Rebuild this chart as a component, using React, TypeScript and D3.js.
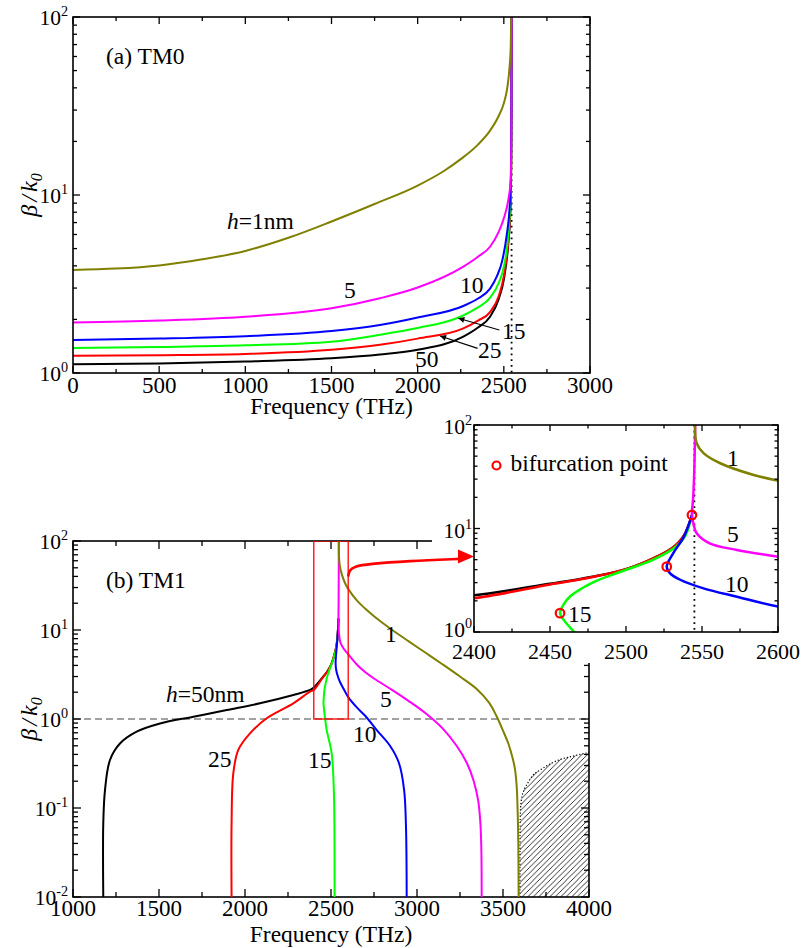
import React from "react";
import * as d3 from "d3";

type P = [number, number];

const FONT = "'Liberation Serif', 'Times New Roman', Times, serif";
const OLIVE = "#808000";
const MAGENTA = "#ff00ff";
const BLUE = "#0000ff";
const GREEN = "#00ff00";
const RED = "#ff0000";
const BLACK = "#000000";

// ---------- Panel (a) TM0 : [frequency THz, beta/k0] ----------
const tm0H1: P[] = [[0, 3.79], [250, 3.86], [500, 4.02], [750, 4.35], [1000, 4.85], [1250, 5.75], [1500, 7.1], [1750, 8.9], [2000, 11.3], [2150, 13.6], [2250, 15.9], [2350, 19.2], [2420, 23], [2470, 27.8], [2500, 32.8], [2520, 40], [2533, 52], [2540, 68], [2543, 100]];
const tm0H5: P[] = [[0, 1.92], [500, 1.97], [1000, 2.07], [1500, 2.31], [1781, 2.63], [2000, 3.02], [2265, 3.96], [2350, 4.5], [2420, 5.12], [2470, 6.2], [2500, 7.4], [2526, 9.4], [2540, 12.1], [2544, 25], [2545, 100]];
const tm0H10: P[] = [[0, 1.53], [500, 1.56], [1000, 1.61], [1500, 1.72], [1781, 1.86], [2000, 2.05], [2265, 2.38], [2350, 2.62], [2420, 2.98], [2460, 3.5], [2490, 4.25], [2516, 5.9], [2535, 9], [2541, 13], [2544, 30], [2545, 100]];
const tm0H15: P[] = [[0, 1.38], [500, 1.40], [1000, 1.43], [1500, 1.50], [1781, 1.64], [2000, 1.79], [2226, 2.03], [2330, 2.28], [2420, 2.65], [2470, 3.2], [2500, 3.95], [2526, 6.0], [2538, 9.4], [2543, 16], [2545, 100]];
const tm0H25: P[] = [[0, 1.25], [500, 1.26], [1000, 1.28], [1500, 1.35], [1781, 1.44], [2000, 1.56], [2265, 1.78], [2350, 1.97], [2420, 2.2], [2470, 2.7], [2500, 3.5], [2526, 5.6], [2538, 8.6], [2543, 16], [2545, 100]];
const tm0H50: P[] = [[0, 1.12], [500, 1.13], [1000, 1.16], [1500, 1.21], [1781, 1.27], [2000, 1.35], [2265, 1.60], [2350, 1.8], [2420, 2.07], [2470, 2.6], [2500, 3.35], [2526, 5.35], [2538, 8.2], [2543, 16], [2545, 100]];

// ---------- Panel (b) TM1 : [frequency THz, beta/k0] ----------
const tm1H1: P[] = [[2545.4, 100], [2546.5, 66.6], [2551, 53.5], [2562, 42.7], [2584, 32.9], [2600, 29.0], [2650, 21.5], [2700, 17.3], [2750, 14.3], [2850, 10.2], [2950, 7.5], [3050, 5.55], [3150, 4.1], [3250, 3.0], [3350, 2.15], [3420, 1.52], [3460, 1.1], [3500, 0.74], [3531, 0.53], [3555, 0.37], [3570, 0.27], [3580, 0.17], [3586, 0.08], [3589, 0.04], [3591, 0.01]];
const tm1H5: P[] = [[2545.5, 100], [2545, 40], [2544.2, 20], [2543.4, 13.5], [2544.3, 11.2], [2546.5, 9.0], [2555, 7.2], [2573, 6.2], [2600, 5.34], [2650, 4.1], [2700, 3.35], [2750, 2.85], [2850, 2.15], [2950, 1.6], [3050, 1.16], [3150, 0.78], [3230, 0.5], [3290, 0.32], [3330, 0.2], [3356, 0.12], [3368, 0.07], [3374, 0.035], [3376, 0.01]];
const tm1H10: P[] = [[2543.4, 13.5], [2538, 8.3], [2531, 5.75], [2526.8, 4.28], [2529, 3.69], [2536, 3.18], [2551, 2.64], [2573, 2.19], [2600, 1.76], [2650, 1.35], [2700, 1.08], [2766, 0.75], [2843, 0.5], [2895, 0.32], [2925, 0.16], [2936, 0.061], [2940, 0.01]];
const tm1H15: P[] = [[2521, 0.01], [2520, 0.06], [2517, 0.146], [2504, 0.41], [2475, 0.75], [2466, 1.0], [2459, 1.31], [2456.6, 1.52], [2459, 1.85], [2463, 2.19], [2478, 3.0], [2496, 3.8], [2518, 5.0], [2533, 6.7], [2539, 8.5], [2543.4, 13.5]];
const tm1H25: P[] = [[1922, 0.01], [1922, 0.067], [1932, 0.245], [1961, 0.45], [2029, 0.69], [2126, 1.02], [2281, 1.50], [2378, 2.03], [2400, 2.12], [2450, 2.88], [2478, 3.4], [2500, 4.05], [2518, 5.15], [2530, 6.4], [2538, 8.5], [2543.4, 13.5]];
const tm1H50: P[] = [[1176, 0.01], [1176, 0.067], [1186, 0.159], [1215, 0.346], [1273, 0.53], [1370, 0.72], [1506, 0.89], [1700, 1.06], [1894, 1.26], [2087, 1.50], [2281, 1.86], [2378, 2.12], [2400, 2.26], [2450, 2.92], [2478, 3.42], [2500, 4.05], [2518, 5.15], [2530, 6.4], [2538, 8.5], [2543.4, 13.5]];

// forbidden (hatched) region edge in panel (b)
const hatchEdge: P[] = [[3598, 0.01], [3599, 0.05], [3601, 0.09], [3606, 0.12], [3620, 0.155], [3640, 0.185], [3676, 0.235], [3720, 0.27], [3770, 0.31], [3830, 0.35], [3900, 0.38], [4000, 0.42]];

// bifurcation points (inset)
const bifPoints: P[] = [[2456.6, 1.52], [2526.8, 4.28], [2543.4, 13.5]];

const spFreq = 2545;

const xTicksA = [0, 500, 1000, 1500, 2000, 2500, 3000];
const xTicksB = [1000, 1500, 2000, 2500, 3000, 3500, 4000];
const xTicksI = [2400, 2450, 2500, 2550, 2600];

type Scale = any;

function Frame(props: {
  xs: Scale; ys: Scale; xMaj: number[]; xMinStep: number; yExp: number[];
  majLen: number; minLen: number; xLabelY: number; yLabelX: number; yLabelDy: number;
  xFont: number; yFont: number; yLabelOverride?: Record<number, number>;
}) {
  const { xs, ys, xMaj, xMinStep, yExp, majLen, minLen, xLabelY, yLabelX, yLabelDy, xFont, yFont } = props;
  const [x0, x1] = xs.range();
  const [yb, yt] = ys.range();
  const [d0, d1] = xs.domain();
  const xMin: number[] = [];
  for (let v = d0; v <= d1 + 1e-9; v += xMinStep) if (!xMaj.some((m) => Math.abs(m - v) < 1e-6)) xMin.push(v);
  const yMin: number[] = [];
  for (let i = 0; i < yExp.length - 1; i++) for (let k = 2; k <= 9; k++) yMin.push(k * Math.pow(10, yExp[i]));
  const els: any[] = [];
  xMaj.forEach((v, i) => {
    const x = xs(v);
    els.push(<line key={"xb" + i} x1={x} x2={x} y1={yb} y2={yb - majLen} />);
    els.push(<line key={"xt" + i} x1={x} x2={x} y1={yt} y2={yt + majLen} />);
  });
  xMin.forEach((v, i) => {
    const x = xs(v);
    els.push(<line key={"xbm" + i} x1={x} x2={x} y1={yb} y2={yb - minLen} />);
    els.push(<line key={"xtm" + i} x1={x} x2={x} y1={yt} y2={yt + minLen} />);
  });
  yExp.forEach((e, i) => {
    const y = ys(Math.pow(10, e));
    els.push(<line key={"yl" + i} x1={x0} x2={x0 + majLen} y1={y} y2={y} />);
    els.push(<line key={"yr" + i} x1={x1} x2={x1 - majLen} y1={y} y2={y} />);
  });
  yMin.forEach((v, i) => {
    const y = ys(v);
    els.push(<line key={"ylm" + i} x1={x0} x2={x0 + minLen} y1={y} y2={y} />);
    els.push(<line key={"yrm" + i} x1={x1} x2={x1 - minLen} y1={y} y2={y} />);
  });
  return (
    <g>
      <g stroke="#000" strokeWidth={1.3}>{els}</g>
      <rect x={x0} y={yt} width={x1 - x0} height={yb - yt} fill="none" stroke="#000" strokeWidth={1.6} />
      <g style={{ fontFamily: FONT }} fontSize={xFont} textAnchor="middle" fill="#000">
        {xMaj.map((v, i) => (
          <text key={"xl" + i} x={xs(v)} y={xLabelY}>{v}</text>
        ))}
      </g>
      <g style={{ fontFamily: FONT }} fontSize={yFont} textAnchor="end" fill="#000">
        {yExp.map((e, i) => {
          const y = ys(Math.pow(10, e));
          const by = props.yLabelOverride && props.yLabelOverride[e] !== undefined ? props.yLabelOverride[e] : y + yLabelDy;
          return (
            <text key={"yl" + i} x={yLabelX} y={by}>
              10<tspan fontSize={yFont * 0.66} dy={-9}>{e}</tspan>
            </text>
          );
        })}
      </g>
    </g>
  );
}

function BetaLabel({ x, y }: { x: number; y: number }) {
  return (
    <text transform={`translate(${x},${y}) rotate(-90)`} style={{ fontFamily: FONT }} fontSize={24} fontStyle="italic" textAnchor="middle">
      β<tspan dx={3}>/</tspan><tspan dx={3}>k</tspan><tspan fontSize={16} dy={5}>0</tspan>
    </text>
  );
}

export default function App() {
  const xA = d3.scaleLinear().domain([0, 3000]).range([73, 590]);
  const yA = d3.scaleLog().domain([1, 100]).range([373, 17]);
  const xB = d3.scaleLinear().domain([1000, 4000]).range([73, 589]);
  const yB = d3.scaleLog().domain([0.01, 100]).range([897, 541]);
  const xI = d3.scaleLinear().domain([2400, 2600]).range([474, 778]);
  const yI = d3.scaleLog().domain([1, 100]).range([632, 425]);

  const mk = (xs: Scale, ys: Scale) =>
    d3.line<P>().x((d) => xs(d[0])).y((d) => ys(d[1])).curve(d3.curveCatmullRom.alpha(0.5));
  const lA = d3.line<P>().x((d) => xA(d[0])).y((d) => yA(d[1])).curve(d3.curveMonotoneX);
  const lB = mk(xB, yB);
  const lI = mk(xI, yI);

  const seriesA: [P[], string][] = [[tm0H50, BLACK], [tm0H25, RED], [tm0H15, GREEN], [tm0H10, BLUE], [tm0H5, MAGENTA], [tm0H1, OLIVE]];
  const seriesB: [P[], string][] = [[tm1H50, BLACK], [tm1H25, RED], [tm1H15, GREEN], [tm1H10, BLUE], [tm1H5, MAGENTA], [tm1H1, OLIVE]];

  // hatched region polygon
  const hatchLine = d3.line<P>().x((d) => xB(d[0])).y((d) => yB(d[1])).curve(d3.curveMonotoneX);
  const hatchPath = hatchLine(hatchEdge) + `L${xB(4000)},${yB(0.01)}Z`;

  // red zoom arrow from rectangle to inset
  const sx = xB(2600), sy = yB(40);
  const tx = xI(2400), ty = yI(5.35);
  const arrowPts: P[] = [[sx, sy], [sx + 1, sy - 6], [sx + 6, sy - 10], [sx + 20, sy - 12.5], [sx + 60, sy - 15.5], [tx - 14, ty + 2.3]];
  const arrowPath = d3.line<P>().curve(d3.curveBasis)(arrowPts) as string;

  // leader arrows in panel (a)
  const leaders = [
    { from: [2474, 1.745] as P, to: [2236, 2.03] as P },
    { from: [2348, 1.376] as P, to: [2130, 1.613] as P },
  ];

  return (
    <div style={{ position: "absolute", left: 0, top: 0 }}>
      <svg width={804} height={948} style={{ display: "block", background: "#fff" }}>
        <defs>
          <clipPath id="clipA"><rect x={73} y={17} width={517} height={356} /></clipPath>
          <clipPath id="clipB"><rect x={73} y={541} width={516} height={356} /></clipPath>
          <clipPath id="clipI"><rect x={474} y={425} width={304} height={207} /></clipPath>
          <pattern id="hatch" patternUnits="userSpaceOnUse" width={5.5} height={5.5}>
            <path d="M0,5.5 L5.5,0 M-1,1 L1,-1 M4.5,6.5 L6.5,4.5" stroke="#000" strokeWidth={0.8} />
          </pattern>
          <marker id="ah" viewBox="0 0 10 10" refX={10} refY={5} markerWidth={8} markerHeight={6} markerUnits="userSpaceOnUse" orient="auto">
            <path d="M0,0 L10,5 L0,10 z" fill="#000" />
          </marker>
        </defs>

        {/* ---------------- Panel (a) ---------------- */}
        <g clipPath="url(#clipA)">
          <line x1={xA(spFreq)} x2={xA(spFreq)} y1={17} y2={373} stroke="#000" strokeWidth={1.8} strokeDasharray="1.8,4" />
          {seriesA.map(([d, c], i) => (
            <path key={i} d={lA(d) as string} fill="none" stroke={c} strokeWidth={2} />
          ))}
        </g>
        <Frame xs={xA} ys={yA} xMaj={xTicksA} xMinStep={250} yExp={[0, 1, 2]} majLen={7} minLen={4}
          xLabelY={393} yLabelX={68} yLabelDy={8} xFont={23} yFont={21.5} />
        {leaders.map((l, i) => (
          <line key={i} x1={xA(l.from[0])} y1={yA(l.from[1])} x2={xA(l.to[0])} y2={yA(l.to[1])} stroke="#000" strokeWidth={1.2} markerEnd="url(#ah)" />
        ))}
        <g style={{ fontFamily: FONT }} fontSize={23.5} fill="#000">
          <text x={106} y={64}>(a) TM0</text>
          <text x={227} y={229}><tspan fontStyle="italic">h</tspan>=1nm</text>
          <text x={344} y={298}>5</text>
          <text x={460} y={293}>10</text>
          <text x={502} y={339}>15</text>
          <text x={478} y={358}>25</text>
          <text x={415} y={367}>50</text>
          <text x={331.5} y={414} textAnchor="middle">Frequency (THz)</text>
        </g>
        <BetaLabel x={37} y={195} />

        {/* ---------------- Panel (b) ---------------- */}
        <g clipPath="url(#clipB)">
          <path d={hatchPath} fill="url(#hatch)" stroke="none" />
          <path d={hatchLine(hatchEdge) as string} fill="none" stroke="#000" strokeWidth={1.2} strokeDasharray="1.2,2" />
          <line x1={73} x2={589} y1={yB(1)} y2={yB(1)} stroke="#444" strokeWidth={1.2} strokeDasharray="7,4" />
        </g>
        <Frame xs={xB} ys={yB} xMaj={xTicksB} xMinStep={250} yExp={[-2, -1, 0, 1, 2]} majLen={8} minLen={5}
          xLabelY={916} yLabelX={68} yLabelDy={8} xFont={23} yFont={21.5} />
        {/* white backing of the inset hides the top-right part of panel (b) frame */}
        <rect x={432} y={413} width={372} height={250} fill="#fff" />
        <g clipPath="url(#clipB)">
          {seriesB.map(([d, c], i) => (
            <path key={i} d={lB(d) as string} fill="none" stroke={c} strokeWidth={2} />
          ))}
          <rect x={xB(2400)} y={yB(100)} width={xB(2600) - xB(2400)} height={yB(1) - yB(100)} fill="none" stroke={RED} strokeWidth={1.3} />
        </g>
        <g style={{ fontFamily: FONT }} fontSize={23.5} fill="#000">
          <text x={106} y={588}>(b) TM1</text>
          <text x={166} y={702}><tspan fontStyle="italic">h</tspan>=50nm</text>
          <text x={385} y={642}>1</text>
          <text x={380} y={707}>5</text>
          <text x={353} y={742}>10</text>
          <text x={308} y={768}>15</text>
          <text x={208} y={767}>25</text>
          <text x={331} y={942} textAnchor="middle">Frequency (THz)</text>
        </g>
        <BetaLabel x={37} y={719} />

        {/* ---------------- Inset ---------------- */}
        <rect x={474} y={425} width={304} height={207} fill="#fff" />
        <g clipPath="url(#clipI)">
          <line x1={xI(spFreq)} x2={xI(spFreq)} y1={425} y2={632} stroke="#000" strokeWidth={1.8} strokeDasharray="1.8,4" />
          {seriesB.map(([d, c], i) => (
            <path key={i} d={lI(d) as string} fill="none" stroke={c} strokeWidth={2.5} />
          ))}
          {bifPoints.map((p, i) => (
            <circle key={i} cx={xI(p[0])} cy={yI(p[1])} r={4.3} fill="none" stroke={RED} strokeWidth={2.2} />
          ))}
        </g>
        <Frame xs={xI} ys={yI} xMaj={xTicksI} xMinStep={25} yExp={[0, 1, 2]} majLen={6} minLen={3.5}
          xLabelY={659} yLabelX={472} yLabelDy={9} xFont={22} yFont={21.5} yLabelOverride={{ 0: 637 }} />
        <circle cx={496.5} cy={465.5} r={4} fill="#fff" stroke={RED} strokeWidth={2.2} />
        <g style={{ fontFamily: FONT }} fontSize={23.5} fill="#000">
          <text x={510.5} y={471}>bifurcation point</text>
          <text x={727} y={466}>1</text>
          <text x={727} y={542}>5</text>
          <text x={725} y={592}>10</text>
          <text x={568} y={622}>15</text>
        </g>

        {/* red zoom arrow */}
        <path d={arrowPath} fill="none" stroke={RED} strokeWidth={2.6} />
        <path d={`M${tx},${ty} L${tx - 16},${ty - 7} L${tx - 16},${ty + 7} Z`} fill={RED} />
      </svg>
    </div>
  );
}
